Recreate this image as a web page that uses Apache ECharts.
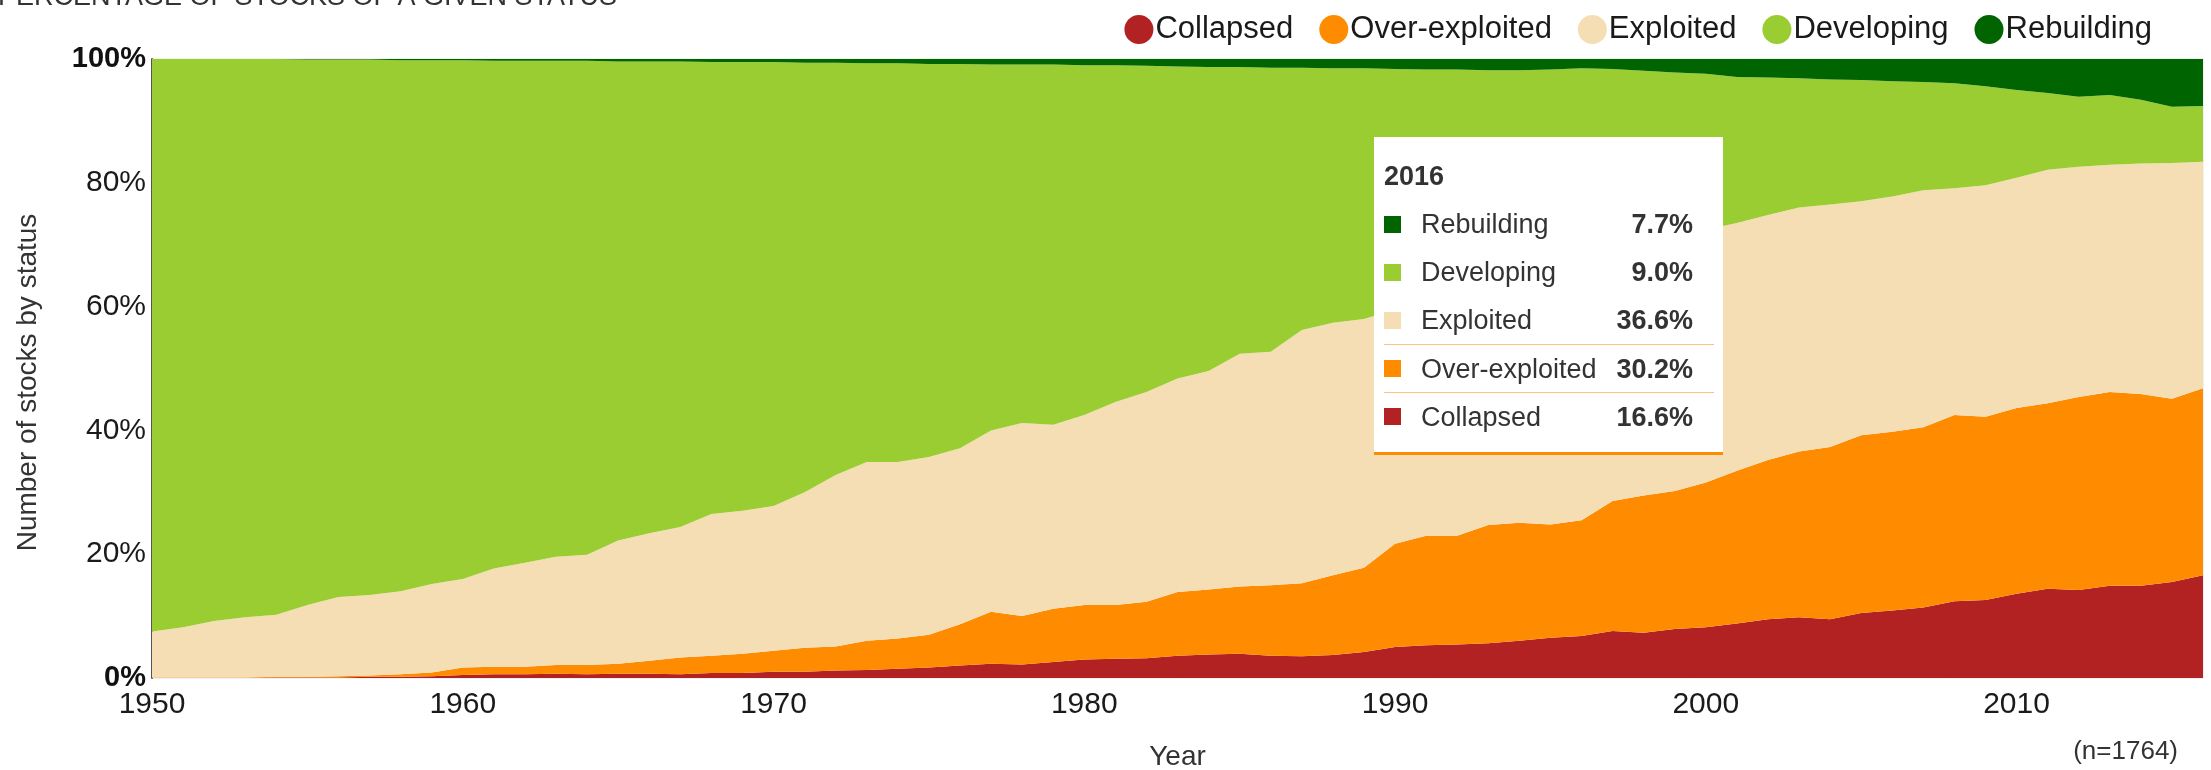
<!DOCTYPE html>
<html>
<head>
<meta charset="utf-8">
<script src="https://cdn.jsdelivr.net/npm/echarts@6/dist/echarts.min.js"></script>
<style>
    html, body { margin: 0; padding: 0; background: #fff; }
    #chart { width: 2211px; height: 770px; }
</style>
</head>
<body>
<div id="chart"></div>
<script>
// years 1950..2016
const years = Array.from({length: 67}, (_, i) => String(1950 + i));

// share of stocks by status, %
const collapsed = [
    0, 0, 0, 0, 0.1, 0.1, 0.1, 0.2, 0.2, 0.3,
    0.5, 0.6, 0.6, 0.7, 0.6, 0.7, 0.7, 0.6, 0.8, 0.8,
    1.0, 1.0, 1.2, 1.3, 1.5, 1.7, 2.0, 2.3, 2.2, 2.6,
    3.0, 3.1, 3.2, 3.6, 3.8, 3.9, 3.6, 3.5, 3.7, 4.2,
    5.0, 5.3, 5.4, 5.6, 6.0, 6.5, 6.8, 7.6, 7.3, 7.9,
    8.2, 8.8, 9.5, 9.8, 9.5, 10.5, 10.9, 11.4, 12.4, 12.6,
    13.6, 14.4, 14.2, 14.9, 14.9, 15.5, 16.6
];
const overExploited = [
    0.1, 0.1, 0.1, 0.1, 0.1, 0.1, 0.2, 0.2, 0.4, 0.6,
    1.2, 1.2, 1.2, 1.4, 1.5, 1.6, 2.1, 2.7, 2.8, 3.1,
    3.4, 3.9, 3.9, 4.7, 4.9, 5.3, 6.7, 8.4, 7.8, 8.6,
    8.8, 8.7, 9.1, 10.3, 10.5, 10.9, 11.4, 11.8, 12.9, 13.6,
    16.7, 17.7, 17.6, 19.1, 19.1, 18.3, 18.7, 21.0, 22.2, 22.3,
    23.4, 24.7, 25.7, 26.8, 27.8, 28.7, 28.9, 29.1, 30.1, 29.6,
    30.0, 30.0, 31.2, 31.3, 31.0, 29.6, 30.2
];
const exploited = [
    7.4, 8.1, 9.1, 9.7, 10.0, 11.6, 12.8, 13.0, 13.4, 14.3,
    14.3, 15.9, 16.8, 17.5, 17.8, 19.9, 20.6, 21.1, 22.9, 23.1,
    23.4, 25.1, 27.7, 28.9, 28.5, 28.7, 28.4, 29.3, 31.2, 29.7,
    30.7, 32.8, 33.9, 34.5, 35.3, 37.6, 37.7, 40.9, 40.8, 40.2,
    37.8, 38.0, 39.5, 39.1, 39.9, 41.5, 42.0, 40.1, 40.5, 41.0,
    40.8, 40.0, 39.6, 39.4, 39.2, 37.8, 38.0, 38.3, 36.6, 37.4,
    37.2, 37.7, 37.2, 36.7, 37.2, 38.1, 36.6
];
const developing = [
    92.5, 91.8, 90.8, 90.2, 89.8, 88.1, 86.8, 86.5, 85.8, 84.6,
    83.8, 82.0, 81.1, 80.1, 79.8, 77.4, 76.2, 75.2, 73.0, 72.5,
    71.7, 69.4, 66.6, 64.4, 64.4, 63.5, 62.1, 59.1, 57.9, 58.2,
    56.5, 54.4, 52.7, 50.4, 49.1, 46.3, 45.9, 42.4, 41.1, 40.5,
    38.9, 37.3, 35.8, 34.4, 33.2, 32.0, 31.0, 29.7, 28.1, 26.6,
    25.2, 23.6, 22.2, 20.9, 20.2, 19.6, 18.6, 17.5, 17.0, 16.0,
    14.2, 12.4, 11.3, 11.3, 10.3, 9.1, 9.0
];
const rebuilding = [
    0, 0, 0, 0, 0, 0.1, 0.1, 0.1, 0.2, 0.2,
    0.2, 0.3, 0.3, 0.3, 0.3, 0.4, 0.4, 0.4, 0.5, 0.5,
    0.5, 0.6, 0.6, 0.7, 0.7, 0.8, 0.8, 0.9, 0.9, 0.9,
    1.0, 1.0, 1.1, 1.2, 1.3, 1.3, 1.4, 1.4, 1.5, 1.5,
    1.6, 1.7, 1.7, 1.8, 1.8, 1.7, 1.5, 1.6, 1.9, 2.2,
    2.4, 2.9, 3.0, 3.1, 3.3, 3.4, 3.6, 3.7, 3.9, 4.4,
    5.0, 5.5, 6.1, 5.8, 6.6, 7.7, 7.7
];

const statusNames = ['Collapsed', 'Over-exploited', 'Exploited', 'Developing', 'Rebuilding'];
const statusColors = ['#b22222', '#ff8c00', '#f5deb3', '#9acd32', '#006400'];
const statusValues = [collapsed, overExploited, exploited, developing, rebuilding];

const FONT = 'Liberation Sans, Arial, sans-serif';

const chart = echarts.init(document.getElementById('chart'));

function tooltipHtml(params) {
    const year = params[0].axisValue;
    let rows = '';
    params.slice().reverse().forEach(p => {
        const sep = (p.seriesName === 'Over-exploited' || p.seriesName === 'Collapsed')
            ? 'border-top:1px solid #fdc27e;' : '';
        rows += `<div style="display:flex;align-items:center;height:48px;box-sizing:border-box;${sep}">` +
            `<span style="display:inline-block;width:17px;height:17px;background:${p.color};margin-right:20px"></span>` +
            `<span style="flex:1">${p.seriesName}</span>` +
            `<span style="font-weight:bold;padding-right:21px">${p.value.toFixed(1)}%</span></div>`;
    });
    return `<div style="font-family:${FONT};font-size:27px;color:#333;line-height:48px;padding:15px 9px 15px 10px">` +
        `<div style="font-weight:bold;height:48px">${year}</div>${rows}</div>`;
}

chart.setOption({
    animation: false,
    color: statusColors,
    title: {
        text: 'PERCENTAGE OF STOCKS OF A GIVEN STATUS',
        left: -2,
        top: -16,
        padding: 0,
        textStyle: {fontFamily: FONT, fontSize: 27, fontWeight: 'normal', color: '#333'}
    },
    legend: {
        data: statusNames.map(n => ({name: n, icon: 'circle'})),
        right: 54,
        top: 9,
        itemWidth: 29,
        itemHeight: 29,
        itemGap: 26,
        textStyle: {fontFamily: FONT, fontSize: 31, color: '#1a1a1a', padding: [0, 0, 0, -3]}
    },
    grid: {
        left: 152, right: 8, top: 59, bottom: 92,
        outerBoundsMode: 'none',
        show: true, borderColor: '#e2e2e2', borderWidth: 1
    },
    tooltip: {
        trigger: 'axis',
        triggerOn: 'none',
        alwaysShowContent: true,
        transitionDuration: 0,
        axisPointer: {type: 'none'},
        position: [1374, 137],
        padding: 0,
        borderWidth: 0,
        backgroundColor: '#fff',
        extraCssText: 'width:349px;height:318px;box-sizing:border-box;border-radius:0;box-shadow:none;border-bottom:3px solid #ff8c00;',
        formatter: tooltipHtml
    },
    xAxis: {
        type: 'category',
        data: years,
        boundaryGap: false,
        name: 'Year',
        nameLocation: 'middle',
        nameGap: 65,
        nameTextStyle: {fontFamily: FONT, fontSize: 28, color: '#333'},
        axisLine: {show: false},
        axisTick: {show: false},
        axisLabel: {
            interval: (idx, val) => Number(val) % 10 === 0,
            margin: 12,
            fontFamily: FONT, fontSize: 30, color: '#1a1a1a'
        },
        splitLine: {show: false}
    },
    yAxis: {
        type: 'value',
        min: 0, max: 100, interval: 20,
        name: 'Number of stocks by status',
        nameLocation: 'middle',
        nameGap: 110,
        nameTextStyle: {fontFamily: FONT, fontSize: 28, color: '#333', padding: [0, 28, 0, 0]},
        axisLine: {show: true, lineStyle: {color: '#555', width: 2}},
        axisTick: {show: false},
        splitLine: {show: false},
        axisLabel: {
            margin: 6,
            fontFamily: FONT, fontSize: 30, color: '#1a1a1a',
            formatter: v => (v === 0 || v === 100) ? `{b|${v}%}` : `${v}%`,
            rich: {b: {fontFamily: FONT, fontSize: 29, fontWeight: 'bold', color: '#111'}}
        }
    },
    graphic: [{
        type: 'text',
        right: 33,
        top: 739,
        style: {text: '(n=1764)', font: `26px ${FONT}`, fill: '#333'}
    }],
    series: statusNames.map((name, i) => ({
        name: name,
        type: 'line',
        stack: 'status',
        data: statusValues[i],
        symbol: 'none',
        lineStyle: {width: 0},
        areaStyle: {color: statusColors[i], opacity: 1},
        emphasis: {disabled: true}
    }))
});

chart.dispatchAction({type: 'showTip', seriesIndex: 0, dataIndex: years.length - 1});
</script>
</body>
</html>
